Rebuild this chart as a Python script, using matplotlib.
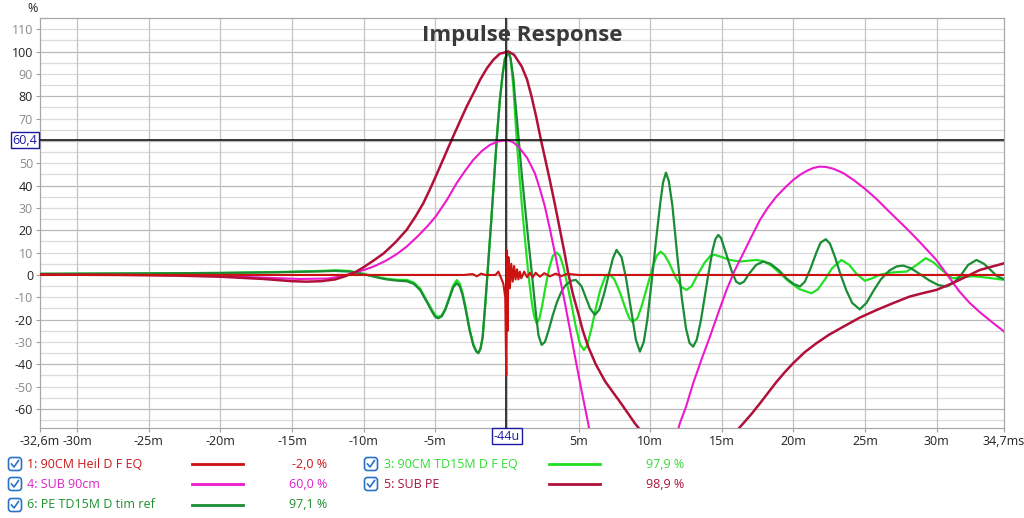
import matplotlib
matplotlib.use("Agg")
import matplotlib.pyplot as plt
from matplotlib.lines import Line2D
from matplotlib.patches import FancyBboxPatch
from matplotlib.transforms import IdentityTransform

plt.rcParams["font.family"] = ["Open Sans", "DejaVu Sans"]

W, H = 1024, 518

# ---- data (time in ms, level in %) ----
heil_t = [-32.6, -3.0, -2.4, -2.1, -1.8, -1.5, -0.8, -0.6, -0.4, -0.25, -0.12, -0.05,
          0.0, 0.05, 0.1, 0.2, 0.3, 0.4, 0.5, 0.6, 0.7, 0.8, 0.9, 1.0, 1.2, 1.4, 1.6,
          1.8, 2.0, 2.3, 2.6, 3.0, 3.4, 3.8, 4.2, 5.0, 34.7]
heil_v = [0.0, 0.0, 0.4, -0.6, 0.6, 0.0, 0.0, 1.5, -1.5, -4.0, -10.0, -45.0,
          11.0, -25.0, 8.0, -6.0, 5.0, -3.0, 4.0, -2.0, 2.5, -2.0, 1.5, -1.5, 1.5, -1.0, 1.0,
          -1.0, 1.0, -0.8, 0.8, -0.6, 0.6, -0.5, 0.5, 0.0, 0.0]

td15_t = [-32.6, -25.0, -20.0, -16.0, -13.0, -12.0, -11.0, -10.5, -9.8, -9.0, -8.4, -7.6,
          -7.0, -6.5, -6.07, -5.6, -5.2, -5.0, -4.79, -4.55, -4.3, -4.0, -3.75, -3.5,
          -3.3, -3.1, -2.9, -2.6, -2.35, -2.15, -2.0, -1.85, -1.7, -1.5, -1.3, -1.1, -0.9,
          -0.7, -0.5, -0.3, -0.15, 0.09, 0.25, 0.45, 0.68, 0.9, 1.1, 1.26, 1.5, 1.75, 1.9,
          2.07, 2.25, 2.45, 2.7, 2.95, 3.2, 3.47, 3.7, 3.95, 4.2, 4.5, 4.8, 5.1, 5.37,
          5.6, 5.9, 6.2, 6.5, 6.84, 7.14, 7.5, 7.9, 8.3, 8.55, 8.75, 9.1, 9.4, 9.8, 10.2,
          10.45, 10.72, 11.0, 11.35, 11.8, 12.2, 12.54, 12.9, 13.3, 13.8, 14.2, 14.5,
          15.0, 15.5, 16.26, 16.9, 17.4, 17.9, 18.5, 19.1, 19.7, 20.4, 21.26, 21.7, 22.2,
          22.7, 23.35, 23.9, 24.4, 24.98, 25.5, 26.0, 26.7, 27.3, 27.9, 28.5, 29.24, 29.8,
          30.4, 31.1, 31.8, 32.5, 33.0, 34.0, 34.7]
td15_v = [0.5, 0.7, 0.9, 1.3, 1.8, 2.1, 1.8, 1.2, 0.2, -1.0, -1.7, -2.2,
          -2.2, -3.4, -6.0, -11.5, -16.0, -18.0, -18.8, -18.0, -15.0, -9.5, -4.6, -2.3,
          -3.8, -8.0, -14.0, -24.5, -31.0, -34.0, -35.0, -33.0, -28.0, -12.0, 6.0, 24.0, 43.0,
          62.0, 78.0, 90.0, 96.5, 100.0, 97.0, 84.0, 60.5, 42.0, 27.0, 15.7, 0.0, -13.0, -18.5,
          -21.6, -20.0, -14.0, -5.0, 3.0, 8.5, 10.0, 8.5, 3.5, -4.0, -13.0, -23.0, -31.0, -33.6,
          -31.5, -24.0, -15.0, -7.0, -1.0, 0.5, -2.0, -8.0, -15.5, -19.5, -21.0, -19.5, -14.0, -5.0, 4.0,
          8.5, 10.4, 9.0, 5.0, -1.5, -5.5, -6.7, -5.0, 0.0, 5.5, 8.5, 9.0,
          8.0, 6.8, 6.0, 6.4, 6.7, 6.2, 4.0, 0.5, -3.0, -6.3, -8.2, -6.5, -2.0,
          3.0, 6.7, 4.5, 0.5, -2.6, -1.5, 0.0, 1.0, 1.3, 1.5, 4.0, 7.5, 5.5,
          2.0, -1.5, -1.0, -0.6, -0.8, -1.6, -2.2]

sub90_t = [-32.6, -25.0, -20.0, -17.0, -14.5, -12.5, -11.5, -10.6, -10.0, -9.33, -8.5,
           -7.7, -7.0, -6.2, -5.5, -4.98, -4.2, -3.51, -2.9, -2.35, -1.75, -1.19, -0.6,
           0.0, 0.4, 0.79, 1.4, 1.95, 2.3, 2.65, 3.0, 3.35, 3.7, 4.05, 4.4, 4.75, 5.2,
           5.67, 6.0, 8.0, 10.0, 11.7, 12.07, 12.5, 13.0, 13.6, 14.17, 14.75, 15.33, 15.9,
           16.5, 17.1, 17.66, 18.2, 18.8, 19.4, 19.98, 20.5, 21.0, 21.4, 21.84, 22.3, 22.8,
           23.5, 24.2, 25.0, 25.8, 26.5, 27.3, 28.1, 29.0, 29.98, 30.8, 31.6, 32.3, 33.0,
           33.9, 34.7]
sub90_v = [0.0, 0.0, -0.5, -1.2, -1.8, -1.6, -0.6, 1.2, 2.2, 3.7, 6.2,
           9.3, 12.7, 17.5, 22.2, 26.1, 33.5, 41.1, 46.8, 51.5, 55.5, 58.2, 59.8,
           60.4, 59.5, 57.5, 52.5, 45.5, 38.5, 30.6, 20.5, 9.7, -1.5, -12.7, -24.5, -36.6, -51.5,
           -66.4, -78.0, -90.0, -90.0, -75.0, -66.4, -59.0, -48.5, -37.5, -27.6, -17.0, -6.7, 2.0,
           9.7, 17.5, 24.6, 30.0, 35.0, 39.0, 42.5, 45.0, 46.8, 47.9, 48.5, 48.3, 47.5,
           45.5, 42.5, 38.5, 34.0, 29.5, 24.5, 19.5, 13.5, 6.7, -0.5, -7.5, -12.5, -16.6,
           -21.3, -25.3]

subpe_t = [-32.6, -27.0, -23.0, -20.0, -17.0, -15.0, -14.0, -13.0, -12.0, -11.3, -10.6,
           -10.0, -9.3, -8.6, -7.8, -7.0, -6.4, -5.84, -5.4, -4.98, -4.4, -3.86, -3.3,
           -2.81, -2.3, -1.88, -1.4, -0.95, -0.5, 0.1, 0.5, 1.03, 1.4, 1.72, 2.05, 2.37,
           2.7, 2.99, 3.35, 3.7, 4.0, 4.28, 4.6, 4.98, 5.3, 5.67, 6.2, 6.84, 7.4, 7.8,
           8.4, 8.93, 9.5, 12.0, 14.0, 16.0, 16.5, 17.1, 17.66, 18.2, 18.8, 19.4, 19.98,
           20.8, 21.6, 22.5, 23.5, 24.6, 25.8, 27.0, 28.1, 29.0, 29.98, 30.8, 31.6, 32.3,
           33.0, 33.9, 34.7]
subpe_v = [0.2, 0.0, -0.3, -0.8, -1.8, -2.8, -3.0, -2.8, -2.0, -0.6, 1.2,
           3.5, 6.5, 9.7, 14.5, 20.2, 26.0, 32.1, 38.0, 44.0, 52.5, 60.5, 68.5,
           75.4, 81.8, 87.3, 92.5, 96.3, 99.0, 100.0, 98.5, 93.3, 87.5, 79.8, 70.5, 60.5,
           51.0, 42.5, 31.5, 20.2, 10.5, 0.7, -8.5, -17.2, -25.0, -32.1, -40.0, -47.5, -52.5, -56.0,
           -61.5, -66.4, -71.0, -85.0, -82.0, -70.0, -66.4, -62.0, -57.5, -53.0, -48.0, -43.5, -39.5,
           -34.5, -30.6, -26.7, -23.1, -19.2, -15.7, -12.5, -9.7, -8.2, -6.7, -4.5, -2.2, 0.0,
           2.2, 3.8, 5.2]

pe_t = [-32.6, -25.0, -20.0, -16.0, -13.0, -12.0, -11.0, -10.5, -9.8, -9.0, -8.4, -7.6,
        -7.0, -6.5, -6.07, -5.6, -5.2, -5.0, -4.79, -4.55, -4.3, -4.0, -3.75, -3.51,
        -3.3, -3.1, -2.9, -2.6, -2.35, -2.15, -2.0, -1.85, -1.7, -1.5, -1.3, -1.1, -0.9,
        -0.7, -0.5, -0.3, -0.15, 0.09, 0.25, 0.45, 0.55, 0.82, 1.05, 1.3, 1.49, 1.75,
        2.0, 2.2, 2.42, 2.65, 2.9, 3.2, 3.5, 3.8, 4.1, 4.5, 4.8, 5.2, 5.5, 5.8, 6.14,
        6.45, 6.8, 7.1, 7.4, 7.65, 8.0, 8.3, 8.7, 9.0, 9.28, 9.55, 9.8, 10.1, 10.4, 10.7,
        10.9, 11.1, 11.3, 11.55, 11.9, 12.2, 12.5, 12.75, 13.0, 13.25, 13.55, 14.0,
        14.35, 14.55, 14.75, 14.95, 15.25, 15.7, 16.0, 16.26, 16.55, 16.9, 17.4, 17.9,
        18.4, 19.0, 19.5, 20.0, 20.45, 20.8, 21.2, 21.6, 21.9, 22.26, 22.55, 22.9, 23.3,
        23.7, 24.1, 24.63, 25.1, 25.6, 26.1, 26.7, 27.2, 27.66, 28.2, 28.8, 29.5, 30.1,
        30.68, 31.2, 31.7, 32.2, 32.78, 33.3, 33.8, 34.2, 34.7]
pe_v = [0.5, 0.7, 0.9, 1.2, 1.6, 1.8, 1.5, 1.0, 0.0, -1.2, -2.0, -2.6,
        -2.8, -4.0, -6.7, -12.0, -16.8, -18.8, -19.4, -18.5, -15.5, -10.0, -5.5, -3.7,
        -5.0, -9.0, -15.0, -25.0, -31.5, -34.2, -35.0, -33.0, -28.0, -12.0, 6.0, 24.0, 43.0,
        62.0, 78.0, 90.0, 96.5, 100.0, 97.0, 88.0, 80.0, 60.5, 44.0, 28.0, 15.7, 0.0,
        -16.0, -27.0, -31.3, -30.0, -25.0, -18.0, -12.0, -7.5, -4.5, -2.6, -2.2, -5.0, -10.0, -15.0, -17.9,
        -15.5, -8.0, 0.0, 7.5, 11.2, 8.0, -1.0, -17.0, -29.0, -34.3, -30.0, -20.0, -3.0, 15.0, 32.0,
        41.5, 45.8, 42.0, 31.0, 8.0, -10.0, -24.0, -30.5, -32.1, -29.0, -20.0, -2.0,
        11.0, 16.0, 17.9, 16.5, 10.5, 1.5, -3.0, -4.0, -3.0, 0.5, 4.5, 6.0,
        5.0, 2.0, -1.5, -4.0, -5.2, -3.0, 3.0, 10.0, 14.5, 16.0, 14.0, 8.0, 0.0,
        -7.0, -12.5, -15.4, -12.5, -7.0, -2.0, 2.0, 3.8, 4.2, 3.0, 0.5, -2.5, -4.5,
        -5.2, -3.5, 0.0, 4.5, 6.7, 5.0, 2.0, -0.5, -1.9]

names = ["1: 90CM Heil D F EQ", "3: 90CM TD15M D F EQ", "4: SUB 90cm", "5: SUB PE",
         "6: PE TD15M D tim ref"]
readouts = ["-2,0 %", "97,9 %", "60,0 %", "98,9 %", "97,1 %"]

cursor_t = -0.044
cursor_v = 60.4

y_ticks = [110, 100, 90, 80, 70, 50, 40, 30, 20, 10, 0, -10, -20, -30, -40, -50, -60]
x_ticks = [-32.6, -30, -25, -20, -15, -10, -5, 5, 10, 15, 20, 25, 30, 34.7]
x_labels = ["-32,6m", "-30m", "-25m", "-20m", "-15m", "-10m", "-5m", "5m", "10m", "15m",
            "20m", "25m", "30m", "34,7ms"]

# ---- styling ----
c_heil = "#cc1111"
c_td15 = "#22e022"
c_sub90 = "#ee18cc"
c_subpe = "#b0103a"
c_pe = "#1a8c34"
c_txt = {"1": "#c81818", "3": "#33dd33", "4": "#dd22c8", "5": "#a8143c", "6": "#1f8f2f"}

fig = plt.figure(figsize=(W / 100, H / 100), dpi=100, facecolor="white")
ax = fig.add_axes([40 / W, 90 / H, 964 / W, 410 / H])
ax.set_xlim(-32.6, 34.7)
ax.set_ylim(-68.5, 115)

# grid
for g in range(-65, 115, 5):
    col = "#b8b8b8" if g % 20 == 0 else "#dadada"
    ax.axhline(g, color=col, lw=0.9, zorder=0)
for g in range(-30, 35, 5):
    ax.axvline(g, color="#c4c4c4", lw=0.9, zorder=0)

ax.plot(td15_t, td15_v, color=c_td15, lw=1.6, zorder=2)
ax.plot(pe_t, pe_v, color=c_pe, lw=1.6, zorder=3)
ax.plot(sub90_t, sub90_v, color=c_sub90, lw=1.5, zorder=4)
ax.plot(subpe_t, subpe_v, color=c_subpe, lw=1.8, zorder=5)
ax.plot(heil_t, heil_v, color=c_heil, lw=1.5, zorder=7)

# cursor
ax.axhline(cursor_v, color="black", lw=1.1, zorder=8)
ax.axvline(cursor_t, color="black", lw=1.1, zorder=6)

for s in ax.spines.values():
    s.set_color("#a8a8a8")
    s.set_linewidth(0.9)

ax.set_yticks(y_ticks)
ax.set_yticklabels([str(v) for v in y_ticks], fontsize=9)
for lab, v in zip(ax.get_yticklabels(), y_ticks):
    lab.set_color("#222222" if v % 20 == 0 else "#8a8a8a")
ax.set_xticks(x_ticks)
ax.set_xticklabels(x_labels, fontsize=9, color="#222222")
ax.tick_params(axis="both", length=3, color="#a0a0a0", pad=2)

ax.text(0.5, 0.958, "Impulse Response", transform=ax.transAxes, ha="center", va="center",
        fontsize=16, fontweight="bold", color="#3a3a3a", zorder=10)

ident = IdentityTransform()


def pt(x, y):
    return x, H - y


# axis unit and cursor readouts
fig.text(*pt(33, 8), "%", fontsize=9, color="#222222", ha="center", va="center",
         transform=ident)
for (x, y), txt in [((25, 140), "60,4"), ((507, 436), "-44u")]:
    fig.text(*pt(x, y), txt, fontsize=9, color="#1a1aa0", ha="center", va="center",
             transform=ident,
             bbox=dict(boxstyle="square,pad=0.15", fc="white", ec="#1a1aa0", lw=1.0))

# legend
rows = [464, 484, 505]
entries = [(0, 0, "1", c_heil), (1, 0, "3", c_td15), (0, 1, "4", c_sub90),
           (1, 1, "5", c_subpe), (0, 2, "6", c_pe)]
col_x = [(15, 27, 192, 243, 327), (371, 384, 549, 600, 684)]
for i, (ci, ri, key, lc) in enumerate(entries):
    cb, tx, l0, l1, vx = col_x[ci]
    y = rows[ri]
    bx, by = pt(cb - 6.5, y + 6.5)
    fig.patches.append(FancyBboxPatch((bx, by), 13, 13,
                                      boxstyle="round,pad=0,rounding_size=3",
                                      fc="white", ec="#2a72c8", lw=1.2, transform=ident))
    chk = [pt(cb - 3.5, y), pt(cb - 1, y + 3), pt(cb + 3.5, y - 3.5)]
    fig.lines.append(Line2D([p[0] for p in chk], [p[1] for p in chk], color="#2a72c8",
                            lw=1.2, transform=ident))
    fig.text(*pt(tx, y), names[i], fontsize=9, color=c_txt[key], ha="left",
             va="center", transform=ident)
    fig.lines.append(Line2D([l0, l1], [H - y, H - y], color=lc, lw=2.0, transform=ident))
    fig.text(*pt(vx, y), readouts[i], fontsize=9, color=c_txt[key], ha="right",
             va="center", transform=ident)

fig.savefig("out.png", dpi=100, facecolor="white")
